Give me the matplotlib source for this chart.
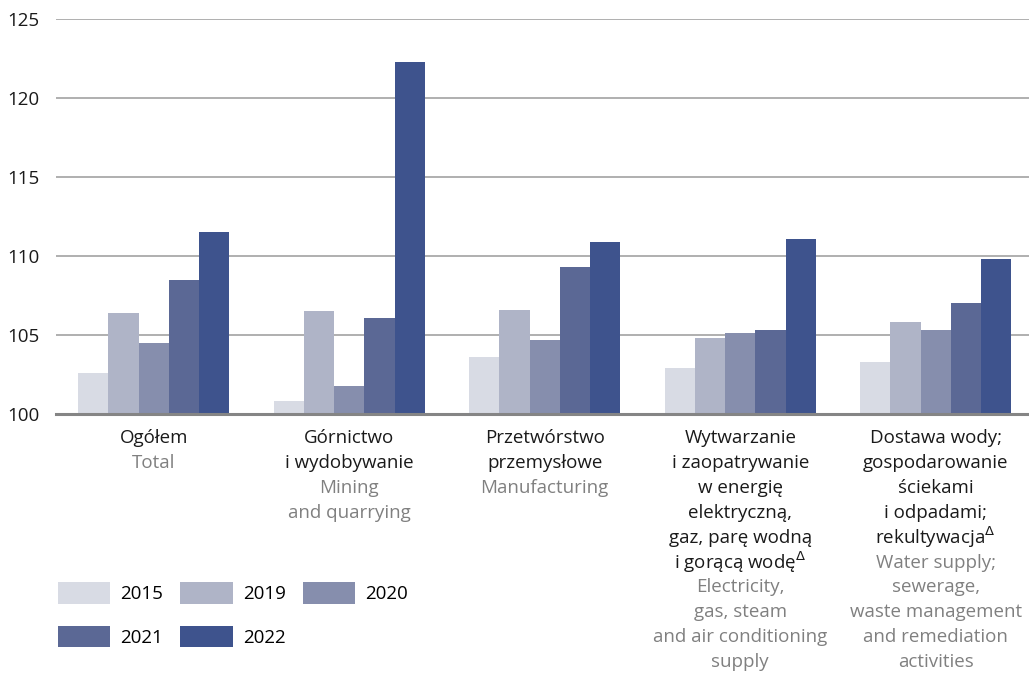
import numpy as np
import matplotlib.pyplot as plt
from matplotlib.transforms import blended_transform_factory, offset_copy

plt.rcParams['font.family'] = ['Open Sans', 'DejaVu Sans']

years = ["2015", "2019", "2020", "2021", "2022"]
colors = ["#d8dbe4", "#afb4c7", "#868ead", "#5b6895", "#3e538d"]

labels_pl = [
    ["Ogółem"],
    ["Górnictwo", "i wydobywanie"],
    ["Przetwórstwo", "przemysłowe"],
    ["Wytwarzanie", "i zaopatrywanie", "w energię", "elektryczną,",
     "gaz, parę wodną", "i gorącą wodę$^{\\Delta}$"],
    ["Dostawa wody;", "gospodarowanie", "ściekami", "i odpadami;",
     "rekultywacja$^{\\Delta}$"],
]
labels_en = [
    ["Total"],
    ["Mining", "and quarrying"],
    ["Manufacturing"],
    ["Electricity,", "gas, steam", "and air conditioning", "supply"],
    ["Water supply;", "sewerage,", "waste management", "and remediation",
     "activities"],
]

v2015 = [102.6, 100.8, 103.6, 102.9, 103.3]
v2019 = [106.4, 106.5, 106.6, 104.8, 105.8]
v2020 = [104.5, 101.8, 104.7, 105.1, 105.3]
v2021 = [108.5, 106.1, 109.3, 105.3, 107.0]
v2022 = [111.5, 122.3, 110.9, 111.1, 109.8]
values = [v2015, v2019, v2020, v2021, v2022]

fs = 13.5

fig = plt.figure(figsize=(10.29, 6.77), dpi=100)
ax = fig.add_axes([56 / 1029, 1 - 414 / 677, 1 - 56 / 1029, 395 / 677])

x = np.arange(len(labels_pl))
w = 0.1545
bars = []
for i, (yr, vals, c) in enumerate(zip(years, values, colors)):
    b = ax.bar(x + (i - 2) * w, np.array(vals) - 100, width=w, bottom=100,
               color=c, label=yr, linewidth=0, zorder=3)
    bars.append(b)

ax.set_ylim(100, 125)
ax.set_xlim(-0.50, 4.477)
ax.set_yticks([100, 105, 110, 115, 120, 125])
ax.tick_params(axis='y', length=0, pad=12, labelsize=fs, colors='#1a1a1a')
ax.set_xticks([])
ax.grid(axis='y', color='#9a9a9a', linewidth=1.1, zorder=0)
for s in ['top', 'right', 'left']:
    ax.spines[s].set_visible(False)
ax.spines['bottom'].set_color('#858585')
ax.spines['bottom'].set_linewidth(2.2)
ax.spines['bottom'].set_zorder(4)

# category labels, one line at a time
tr = blended_transform_factory(ax.transData, ax.transAxes)
step = 24.9
for i in range(len(labels_pl)):
    lines = [(t, '#1a1a1a') for t in labels_pl[i]] + [(t, '#808080') for t in labels_en[i]]
    for k, (t, c) in enumerate(lines):
        off = offset_copy(tr, fig=fig, x=0, y=-(24 + k * step) * 72 / 100, units='points')
        ax.text(x[i], 0, t, transform=off, ha='center', va='center',
                fontsize=fs, color=c)

order = [0, 3, 1, 4, 2]
handles = [bars[j] for j in order]
leg = fig.legend(handles, [years[j] for j in order], ncol=3,
                 loc='upper left', bbox_to_anchor=(0.056, 0.140),
                 frameon=False, fontsize=fs, handlelength=2.8,
                 handleheight=1.4, handletextpad=0.55, columnspacing=0.9,
                 labelspacing=1.17, borderpad=0, borderaxespad=0)

fig.savefig("out.png", dpi=100)
